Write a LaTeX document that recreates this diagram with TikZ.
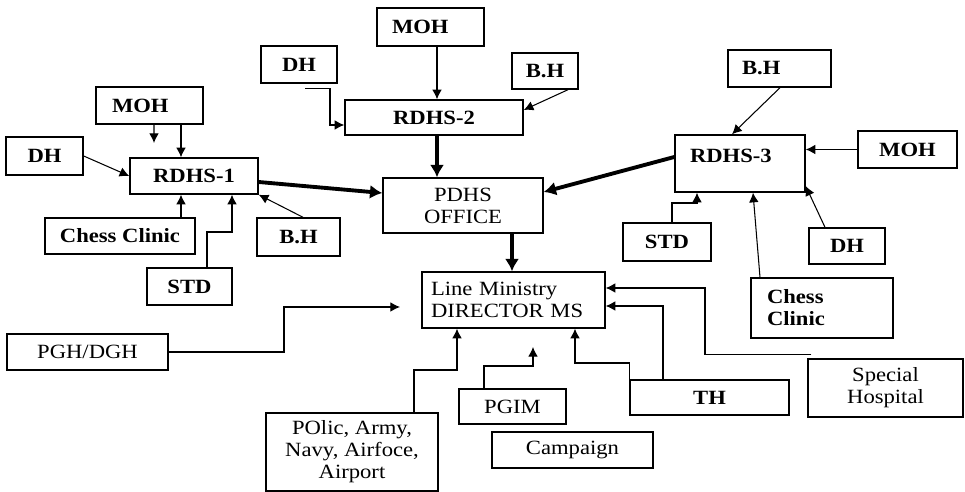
\documentclass[tikz,border=0pt]{standalone}
\usepackage{fontspec}
\setmainfont{Liberation Serif}[FakeStretch=1.12]
\usetikzlibrary{arrows.meta}

\begin{document}
\begin{tikzpicture}[scale=0.2]
\tikzstyle{every node}+=[inner sep=0pt, font=\fontsize{11.5}{12.5}\selectfont]
\tikzstyle{unit}=[draw, line width=0.8pt, align=center]
\tikzstyle{unitb}=[unit, font=\fontsize{11.5}{12.5}\selectfont\bfseries]
\tikzstyle{link}=[line width=0.6pt, -{Latex[length=5.5pt,width=5.5pt]}]
\tikzstyle{mainlink}=[line width=2.2pt, -{Latex[length=7pt,width=8pt]}]
\useasboundingbox (0,0) rectangle (96.5,-49.2);
% RDHS-1 group
\node [unitb, minimum width=2.14cm, minimum height=0.74cm, text width=1.5cm, align=left] (moha) at (14.95,-10.55) {MOH};
\node [unitb, minimum width=1.54cm, minimum height=0.76cm] (dha) at (4.45,-15.6) {DH};
\node [unitb, minimum width=2.56cm, minimum height=0.72cm] (rdhsa) at (19.4,-17.6) {RDHS-1};
\node [unitb, minimum width=3.0cm, minimum height=0.72cm] (cca) at (12.0,-23.6) {Chess Clinic};
\node [unitb, minimum width=1.66cm, minimum height=0.76cm] (bha) at (29.85,-23.7) {B.H};
\node [unitb, minimum width=1.7cm, minimum height=0.74cm] (stda) at (18.95,-28.65) {STD};
% RDHS-2 group
\node [unitb, minimum width=1.52cm, minimum height=0.74cm] (dhb) at (29.9,-6.45) {DH};
\node [unitb, minimum width=2.14cm, minimum height=0.76cm, text width=1.54cm, align=left] (mohb) at (43.05,-2.7) {MOH};
\node [unitb, minimum width=1.32cm, minimum height=0.72cm] (bhb) at (54.5,-7.1) {B.H};
\node [unitb, minimum width=3.56cm, minimum height=0.7cm] (rdhsb) at (43.4,-11.75) {RDHS-2};
\node [unit, minimum width=3.2cm, minimum height=1.1cm] (pdhs) at (46.3,-20.55) {PDHS\\OFFICE};
% RDHS-3 group
\node [unitb, minimum width=2.06cm, minimum height=0.74cm, text width=1.5cm, align=left] (bhc) at (77.95,-6.85) {B.H};
\node [unitb, minimum width=2.6cm, minimum height=1.14cm, text width=2.0cm, align=left, text depth=9pt] (rdhsc) at (74.0,-16.35) {RDHS-3};
\node [unitb, minimum width=1.98cm, minimum height=0.74cm] (mohc) at (90.75,-14.95) {MOH};
\node [unitb, minimum width=1.76cm, minimum height=0.76cm] (stdc) at (66.7,-24.2) {STD};
\node [unitb, minimum width=1.52cm, minimum height=0.72cm] (dhc) at (84.7,-24.6) {DH};
\node [unitb, minimum width=2.84cm, minimum height=1.2cm, text width=2.2cm, align=left] (ccc) at (82.2,-30.8) {Chess\\Clinic};
% line ministry group
\node [unit, minimum width=3.66cm, minimum height=1.12cm, text width=3.3cm, align=left] (lm) at (51.35,-30.0) {Line Ministry\\DIRECTOR MS};
\node [unit, minimum width=3.22cm, minimum height=0.72cm] (pgh) at (8.75,-35.2) {PGH/DGH};
\node [unit, minimum width=3.44cm, minimum height=1.56cm] (pol) at (35.2,-45.2) {POlic, Army,\\Navy, Airfoce,\\Airport};
\node [unit, minimum width=2.14cm, minimum height=0.7cm] (pgim) at (51.25,-40.65) {PGIM};
\node [unit, minimum width=3.22cm, minimum height=0.72cm] (camp) at (57.25,-45.0) {Campaign};
\node [unitb, minimum width=3.18cm, minimum height=0.7cm] (th) at (70.95,-39.75) {TH};
\node [unit, minimum width=3.1cm, minimum height=1.16cm] (sh) at (88.55,-38.8) {Special\\Hospital};
\coordinate (mohastub) at (15.4,-14.3);
\coordinate (pghend) at (40.0,-30.7);
\coordinate (pgimend) at (53.3,-34.7);
% links
\draw [link] (18.1,0 |- moha.south) -- (18.1,0 |- rdhsa.north);
\draw [link] (15.4,0 |- moha.south) -- (mohastub);
\draw [link] (dha.east) -- (rdhsa.west);
\draw [link] (18.1,0 |- cca.north) -- (18.1,0 |- rdhsa.south);
\draw [link] (20.7,0 |- stda.north) |- (23.2,-23.2) -- (23.2,0 |- rdhsa.south);
\draw [link] (30.3,0 |- bha.north) -- (rdhsa.south east);
\draw [mainlink] (rdhsa.east |- 0,-18.2) -- (pdhs.west |- 0,-19.3);
\draw [link] (dhb.south -| 30.5,0) ++(0,-0.5) -| (33.0,-12.5) -- (rdhsb.west |- 0,-12.5);
\draw [link] (43.7,0 |- mohb.south) -- (43.7,0 |- rdhsb.north);
\draw [link] (56.8,0 |- bhb.south) -- (rdhsb.east |- 0,-11.0);
\draw [mainlink] (43.7,0 |- rdhsb.south) -- (43.7,0 |- pdhs.north);
\draw [mainlink] (rdhsc.west |- 0,-15.7) -- (pdhs.east |- 0,-19.2);
\draw [link] (78.0,0 |- bhc.south) -- (73.2,0 |- rdhsc.north);
\draw [link] (mohc.west) -- (rdhsc.east |- mohc.west);
\draw [link] (82.5,0 |- dhc.north) -- (rdhsc.east |- 0,-18.6);
\draw [link] (67.2,0 |- stdc.north) |- (69.7,-20.3) -- (69.7,0 |- rdhsc.south);
\draw [link] (76.0,0 |- ccc.north) -- (75.3,0 |- rdhsc.south);
\draw [mainlink] (51.2,0 |- pdhs.south) -- (51.2,0 |- lm.north);
\draw [link] (pgh.east) -- (28.4,0 |- pgh.east) |- (pghend);
\draw [link] (41.4,0 |- pol.north) -- (41.4,-37.0) -| (45.7,0 |- lm.south);
\draw [link] (48.4,0 |- pgim.north) -- (48.4,-36.6) -| (pgimend);
\draw [link] (th.north west) |- (57.5,-36.3) -- (57.5,0 |- lm.south);
\draw [link] (66.3,0 |- th.north) |- (lm.east |- 0,-30.6);
\draw [link] (sh.north west) ++(0.4,0.4) -| (70.5,-28.8) -- (lm.east |- 0,-28.8);
\end{tikzpicture}
\end{document}
